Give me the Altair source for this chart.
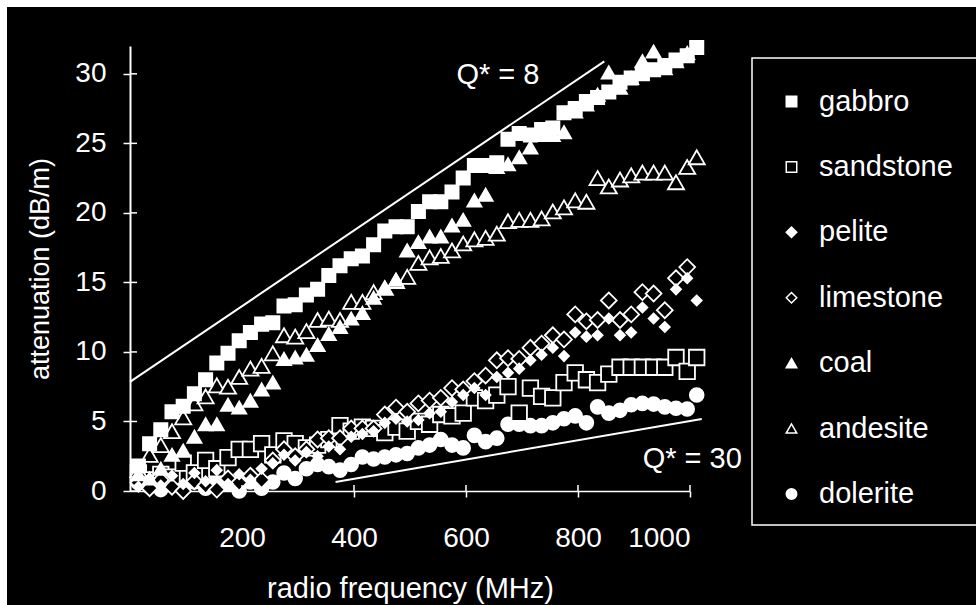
import altair as alt
import pandas as pd

FREQ = [15, 35, 55, 75, 95, 115, 135, 155, 175, 195, 215, 235, 255, 275, 295, 315, 335,
        355, 375, 395, 415, 435, 455, 475, 495, 515, 535, 555, 575, 595, 615, 635, 655,
        675, 695, 715, 735, 755, 775, 795, 815, 835, 855, 875, 895, 915, 935, 955, 975,
        995, 1012]

GABBRO = [1.8, 3.4, 4.4, 5.7, 6.1, 7.0, 8.0, 9.2, 9.9, 10.8, 11.4, 12.0, 12.1, 13.3, 13.4,
          14.1, 14.5, 15.5, 16.2, 16.7, 16.9, 17.7, 18.7, 19.0, 19.0, 20.1, 20.8, 20.8, 21.5,
          22.5, 23.4, 23.4, 23.6, 25.3, 25.7, 25.6, 26.0, 26.1, 27.2, 27.5, 28.0, 28.3, 28.7,
          29.4, 29.7, 30.0, 30.3, 30.6, 31.0, 31.3, 31.9]
SANDSTONE = [1.3, 0.8, 1.2, 1.0, 2.0, 1.3, 2.2, 1.6, 2.4, 3.0, 3.0, 3.4, 2.6, 3.6, 3.4, 3.1,
             3.3, 3.7, 4.7, 4.3, 4.6, 4.5, 4.2, 4.6, 4.3, 5.0, 4.8, 5.5, 5.4, 5.6, 6.7, 6.5,
             6.9, 7.5, 5.6, 7.4, 6.8, 6.7, 7.8, 8.5, 8.0, 7.8, 8.4, 8.9, 8.9, 8.9, 8.9, 8.9,
             9.6, 8.6, 9.6]
PELITE = [0.3, 0.9, 0.4, 1.1, 0.5, 1.3, 0.7, 1.5, 0.5, 1.2, 0.8, 1.6, 2.0, 2.6, 2.2, 2.8,
          2.5, 3.2, 3.0, 3.9, 4.1, 4.3, 4.9, 5.2, 5.0, 5.1, 5.6, 5.7, 6.4, 6.9, 7.4, 6.9, 8.2,
          8.5, 8.8, 9.4, 9.8, 10.3, 9.7, 11.4, 11.1, 11.2, 12.4, 11.2, 11.4, 13.2, 12.4, 11.8,
          14.5, 15.3, 13.7]
LIMESTONE = [0.6, 0.2, 0.8, 0.3, 0.0, 0.7, 0.4, 0.1, 0.9, 0.6, 1.1, 0.8, 2.2, 3.0, 2.5, 3.0,
             3.7, 3.8, 3.8, 4.5, 4.5, 4.5, 5.5, 6.0, 5.7, 6.3, 6.5, 6.7, 7.4, 7.3, 7.9, 8.3,
             9.4, 9.55, 9.5, 10.3, 10.6, 11.2, 10.9, 12.7, 12.2, 12.3, 13.7, 12.3, 12.7, 14.3,
             14.2, 13.0, 15.3, 16.1, None]
COAL = [1.2, 0.9, 1.6, 2.6, 2.9, 3.9, 4.8, 4.8, 6.2, 6.0, 6.5, 7.3, 7.8, 9.5, 9.6, 9.8, 10.5,
        11.3, 11.8, 12.4, 12.8, 13.9, 14.6, 15.2, 17.3, 17.9, 18.3, 18.3, 19.1, 19.5, 20.9,
        21.3, 23.3, 23.5, 24.0, 24.7, 25.6, 25.6, 25.8, 27.3, 27.8, 28.5, 30.1, 29.0, 29.7,
        30.9, 31.6, 30.4, 30.9, 31.5, None]
ANDESITE = [1.5, 2.6, 3.3, 4.3, 5.3, 6.3, 6.8, 7.6, 7.5, 8.2, 8.8, 9.0, 9.9, 11.2, 11.1, 11.5,
            12.3, 12.4, 12.3, 13.6, 13.6, 14.3, 14.6, 15.1, 15.4, 16.4, 16.8, 16.9, 17.3, 17.8,
            18.1, 18.2, 18.5, 19.4, 19.5, 19.5, 19.6, 20.1, 20.4, 20.9, 20.8, 22.5, 21.9, 22.4,
            22.7, 22.9, 22.9, 22.9, 22.2, 23.3, 24.0]
DOLERITE = [0.6, 0.3, 0.1, 0.5, 0.2, 0.65, 0.2, 0.9, 0.5, 0.0, 0.65, 0.2, 0.65, 1.3, 0.9, 1.6,
            1.9, 1.75, 1.5, 1.9, 2.45, 2.3, 2.45, 2.6, 2.7, 3.1, 3.3, 3.7, 3.3, 3.1, 4.0, 3.55,
            3.8, 4.8, 4.8, 4.7, 4.7, 4.9, 5.2, 5.4, 4.9, 6.05, 5.6, 5.8, 6.2, 6.3, 6.25, 6.05,
            5.95, 5.9, 6.9]

ROCKS = ["gabbro", "sandstone", "pelite", "limestone", "coal", "andesite", "dolerite"]
SERIES = [GABBRO, SANDSTONE, PELITE, LIMESTONE, COAL, ANDESITE, DOLERITE]
SHAPES = ["square", "square", "diamond", "diamond", "triangle-up", "triangle-up", "circle"]
FILLS = ["white", "black", "white", "black", "white", "black", "white"]
SIZES = [175, 240, 100, 250, 200, 260, 190]
DRAW_ORDER = ["dolerite", "sandstone", "limestone", "pelite", "andesite", "coal", "gabbro"]

# reference lines (Q* = 8 and Q* = 30)
QLINE_NAME = ["Q8", "Q8", "Q30", "Q30"]
QLINE_F = [0, 847, 367, 1021]
QLINE_A = [7.85, 30.9, 0.65, 5.18]

QLABEL_TEXT = ["Q* = 8", "Q* = 30"]
QLABEL_F = [657, 1004]
QLABEL_A = [29.9, 2.3]

X_TICKS = [200, 400, 600, 800, 1000]
Y_TICKS = [0, 5, 10, 15, 20, 25, 30]

FONT = "Liberation Sans"
W, H = 560, 445

rows = []
for rock, vals in zip(ROCKS, SERIES):
    for f, a in zip(FREQ, vals):
        if a is not None:
            rows.append({"rock": rock, "f": f, "a": a})
df = pd.DataFrame(rows)

lines_df = pd.DataFrame({"name": QLINE_NAME, "f": QLINE_F, "a": QLINE_A})
labels_df = pd.DataFrame({"t": QLABEL_TEXT, "f": QLABEL_F, "a": QLABEL_A})
xt_df = pd.DataFrame({"f": X_TICKS})
yt_df = pd.DataFrame({"a": Y_TICKS})

xs = alt.Scale(domain=[0, 1000], nice=False, zero=False)
ys = alt.Scale(domain=[0, 32], nice=False)

x_axis = alt.Axis(
    values=X_TICKS, format="d", tickSize=6, labelPadding=27, grid=False,
    domainColor="white", domainWidth=1.5, tickColor="white", tickWidth=1.5,
    labelColor="white", labelFont=FONT, labelFontSize=28,
    title="radio frequency (MHz)", titleColor="white", titleFont=FONT,
    titleFontSize=29, titleFontWeight="normal", titlePadding=22)
y_axis = alt.Axis(
    values=Y_TICKS, tickSize=7, labelPadding=17, grid=False,
    domainColor="white", domainWidth=2, tickColor="white", tickWidth=1.5,
    labelColor="white", labelFont=FONT, labelFontSize=28,
    title="attenuation  (dB/m)", titleColor="white", titleFont=FONT,
    titleFontSize=27, titleFontWeight="normal", titlePadding=20)

legend = alt.Legend(
    orient="none", legendX=622, legendY=17, title=None, padding=24,
    labelFont=FONT, labelFontSize=29, labelColor="white",
    rowPadding=35.4, labelOffset=13, symbolOffset=1, symbolSize=110,
    symbolStrokeWidth=1.5,
)

X = alt.X("f:Q", scale=xs, axis=x_axis)
Y = alt.Y("a:Q", scale=ys, axis=y_axis)
SHAPE = alt.Shape("rock:N", scale=alt.Scale(domain=ROCKS, range=SHAPES), legend=legend)
FILL = alt.Fill("rock:N", scale=alt.Scale(domain=ROCKS, range=FILLS), legend=legend)

point_layers = []
for rock in DRAW_ORDER:
    size = SIZES[ROCKS.index(rock)]
    point_layers.append(
        alt.Chart(df[df["rock"] == rock]).mark_point(
            filled=True, stroke="white", strokeWidth=1.8, size=size, opacity=1
        ).encode(x=X, y=Y, shape=SHAPE, fill=FILL)
    )

qlines = alt.Chart(lines_df).mark_line(color="white", strokeWidth=2, clip=False).encode(
    x=X, y=Y, detail="name:N",
)

qlabels = alt.Chart(labels_df).mark_text(
    color="white", font=FONT, fontSize=29, align="center", baseline="middle"
).encode(x=X, y=Y, text="t:N")

ytick_in = alt.Chart(yt_df).mark_rule(color="white", strokeWidth=1.5).encode(
    y=Y, x=alt.value(0), x2=alt.value(7)
)
xtick_in = alt.Chart(xt_df).mark_rule(color="white", strokeWidth=1.5).encode(
    x=X, y=alt.value(H), y2=alt.value(H - 6)
)

# decorative frame pieces: scan border strips and the legend box
deco_df = pd.DataFrame({"k": [0]})
top_strip = alt.Chart(deco_df).mark_rect(color="white").encode(
    x=alt.value(-130), x2=alt.value(846), y=alt.value(-46), y2=alt.value(-39)
)
left_strip = alt.Chart(deco_df).mark_rect(color="white").encode(
    x=alt.value(-130), x2=alt.value(-123), y=alt.value(-46), y2=alt.value(559)
)
legend_box = alt.Chart(deco_df).mark_rect(
    fillOpacity=0, stroke="white", strokeWidth=1.5
).encode(
    x=alt.value(622), x2=alt.value(870), y=alt.value(12), y2=alt.value(479)
)

chart = alt.layer(
    *point_layers, qlines, ytick_in, xtick_in, qlabels, top_strip, left_strip, legend_box
).properties(
    width=W, height=H,
    autosize=alt.AutoSizeParams(type="none"),
    padding={"left": 130, "top": 46, "right": 286, "bottom": 114},
    background="black",
).configure_view(strokeOpacity=0)

chart.save("out.html", embed_options={"renderer": "svg", "actions": False})
